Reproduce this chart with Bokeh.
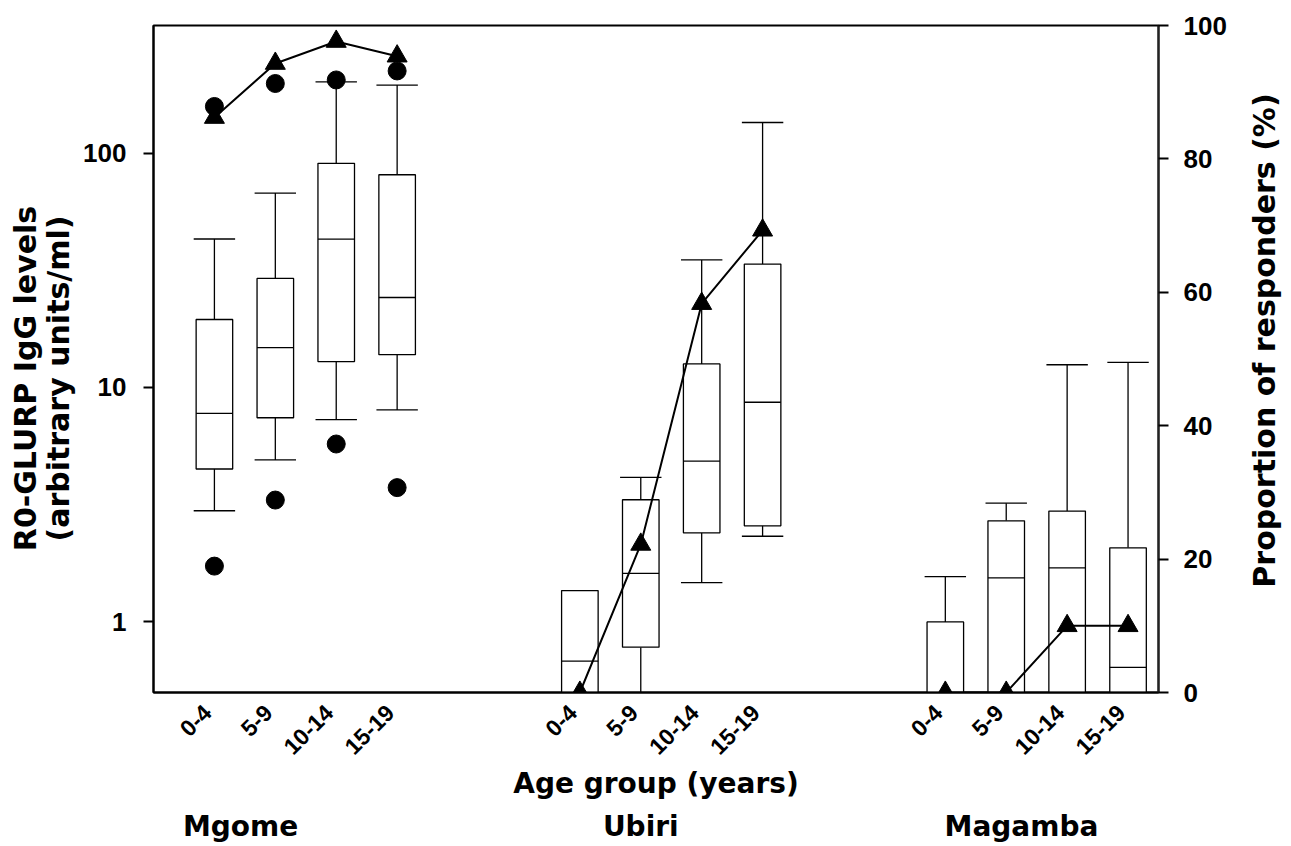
import math
from bokeh.plotting import figure
from bokeh.layouts import row
from bokeh.models import Range1d, LinearAxis, LinearScale, FixedTicker, LogTickFormatter, Label
from bokeh.embed import file_html
from bokeh.resources import INLINE

nan = float("nan")

# ---------------- data ----------------
groups = ["Mgome", "Ubiri", "Magamba"]
age_groups = ["0-4", "5-9", "10-14", "15-19"]
y_ticks = [1, 10, 100]
pct_ticks = [0, 20, 40, 60, 80, 100]

mgome_low = [2.98, 4.91, 7.29, 8.02]
mgome_q1 = [4.49, 7.43, 12.9, 13.8]
mgome_med = [7.76, 14.8, 42.9, 24.2]
mgome_q3 = [19.5, 29.2, 90.4, 80.8]
mgome_high = [43.0, 67.5, 201.0, 195.0]
mgome_dot_low = [1.73, 3.31, 5.74, 3.74]
mgome_dot_high = [158.0, 198.0, 205.0, 224.0]
mgome_resp = [86.2, 94.3, 97.6, 95.4]

ubiri_low = [nan, 0.35, 1.47, 2.32]
ubiri_q1 = [0.40, 0.78, 2.40, 2.57]
ubiri_med = [0.68, 1.61, 4.85, 8.65]
ubiri_q3 = [1.36, 3.32, 12.6, 33.6]
ubiri_high = [nan, 4.14, 35.0, 135.0]
ubiri_resp = [0.0, 22.2, 58.3, 69.3]

magamba_low = [0.30, 0.30, 0.30, 0.30]
magamba_q1 = [0.40, 0.40, 0.40, 0.40]
magamba_med = [0.45, 1.54, 1.70, 0.64]
magamba_q3 = [1.00, 2.70, 2.97, 2.07]
magamba_high = [1.56, 3.21, 12.5, 12.8]
magamba_resp = [0.0, 0.0, 10.0, 10.0]

left_title = ["R0-GLURP IgG levels", "(arbitrary units/ml)"]
right_title = "Proportion of responders (%)"
x_title = "Age group (years)"

# ---------------- layout constants ----------------
H = 845
BORDER_TOP, BORDER_BOTTOM = 25, 153
FRAME_BOTTOM = H - BORDER_BOTTOM          # frames of the row are aligned
LEFT_W, MAIN_W, RIGHT_W = 80, 1153, 57
group_first_pos = [1, 7, 13]
group_label_pos = [1.43, 8.0, 14.25]
LABEL_SHIFT = 0.12
BOX_W = 0.6
CAP_W = 0.68
TICK_FONT = "Liberation Sans"
TITLE_FONT = "DejaVu Sans"
TITLE_SIZE = "28px"
VTITLE_SIZE = "30px"

series = [
    (mgome_low, mgome_q1, mgome_med, mgome_q3, mgome_high, mgome_resp),
    (ubiri_low, ubiri_q1, ubiri_med, ubiri_q3, ubiri_high, ubiri_resp),
    (magamba_low, magamba_q1, magamba_med, magamba_q3, magamba_high, magamba_resp),
]

xs, lows, q1s, meds, q3s, highs = [], [], [], [], [], []
resp_x, resp_y = [], []
tick_pos, tick_lab = [], []
for g, (lo, q1, md, q3, hi, rp) in enumerate(series):
    gx = [group_first_pos[g] + i for i in range(len(age_groups))]
    xs += gx
    lows += lo
    q1s += q1
    meds += md
    q3s += q3
    highs += hi
    resp_x.append(gx)
    resp_y.append(rp)
    tick_pos += [x - LABEL_SHIFT for x in gx]
    tick_lab += age_groups

p = figure(width=MAIN_W, height=H,
           x_range=Range1d(0, 16.5), y_range=Range1d(0.5, 350),
           y_axis_type="log", output_backend="svg", toolbar_location=None,
           min_border_left=72, min_border_right=75,
           min_border_top=BORDER_TOP, min_border_bottom=BORDER_BOTTOM)
p.extra_y_ranges = {"pct": Range1d(0, 100)}
p.extra_y_scales = {"pct": LinearScale()}
p.xgrid.visible = False
p.ygrid.visible = False
p.outline_line_color = "black"
p.outline_line_width = 2
p.background_fill_color = "white"
p.border_fill_color = "white"

LW = 1.3
# whiskers
p.segment(x0=xs, y0=q3s, x1=xs, y1=highs, line_color="black", line_width=LW)
p.segment(x0=xs, y0=q1s, x1=xs, y1=lows, line_color="black", line_width=LW)
p.segment(x0=[x - CAP_W / 2 for x in xs], y0=highs,
          x1=[x + CAP_W / 2 for x in xs], y1=highs, line_color="black", line_width=LW)
p.segment(x0=[x - CAP_W / 2 for x in xs], y0=lows,
          x1=[x + CAP_W / 2 for x in xs], y1=lows, line_color="black", line_width=LW)
# boxes
p.vbar(x=xs, width=BOX_W, bottom=q1s, top=q3s, fill_color="white",
       line_color="black", line_width=LW)
p.segment(x0=[x - BOX_W / 2 for x in xs], y0=meds,
          x1=[x + BOX_W / 2 for x in xs], y1=meds, line_color="black", line_width=LW)

# proportion of responders
for gx, gy in zip(resp_x, resp_y):
    p.line(x=gx, y=gy, y_range_name="pct", line_color="black", line_width=2)
    p.scatter(x=gx, y=gy, y_range_name="pct", marker="triangle", size=20, color="black")

# outlier dots (Mgome)
mg_x = resp_x[0]
p.scatter(x=mg_x, y=mgome_dot_low, marker="circle", size=18, color="black")
p.scatter(x=mg_x, y=mgome_dot_high, marker="circle", size=18, color="black")

# left axis
ya = p.yaxis[0]
ya.ticker = FixedTicker(ticks=y_ticks)
ya.formatter = LogTickFormatter(min_exponent=4)
ya.axis_line_width = 2
ya.axis_line_color = "black"
ya.major_tick_out = 10
ya.major_tick_in = 0
ya.major_tick_line_width = 2
ya.minor_tick_line_color = None
ya.major_label_standoff = 17
ya.major_label_text_font = TICK_FONT
ya.major_label_text_font_style = "bold"
ya.major_label_text_font_size = "26px"
ya.major_label_text_color = "black"

# right axis
ra = LinearAxis(y_range_name="pct", ticker=FixedTicker(ticks=pct_ticks))
ra.axis_line_width = 2
ra.axis_line_color = "#222222"
ra.major_tick_out = 10
ra.major_tick_in = 0
ra.major_tick_line_width = 2
ra.minor_tick_line_color = None
ra.major_label_standoff = 15
ra.major_label_text_font = TICK_FONT
ra.major_label_text_font_style = "bold"
ra.major_label_text_font_size = "26px"
ra.major_label_text_color = "black"
p.add_layout(ra, "right")

# bottom axis with rotated age-group labels
xa = p.xaxis[0]
xa.ticker = FixedTicker(ticks=tick_pos)
xa.major_label_overrides = {pos: lab for pos, lab in zip(tick_pos, tick_lab)}
xa.major_label_orientation = math.pi / 4
xa.major_tick_line_color = None
xa.minor_tick_line_color = None
xa.axis_line_color = "black"
xa.axis_line_width = 2
xa.major_label_standoff = 10
xa.major_label_text_font = TICK_FONT
xa.major_label_text_font_style = "bold"
xa.major_label_text_font_size = "23px"
xa.major_label_text_color = "black"
xa.axis_label = x_title
xa.axis_label_standoff = 2
xa.axis_label_text_font = TITLE_FONT
xa.axis_label_text_font_style = "bold"
xa.axis_label_text_font_size = TITLE_SIZE
xa.axis_label_text_color = "black"

# second bottom axis carrying the village names
ga = LinearAxis(ticker=FixedTicker(ticks=group_label_pos))
ga.major_label_overrides = {pos: name for pos, name in zip(group_label_pos, groups)}
ga.axis_line_color = None
ga.major_tick_line_color = None
ga.minor_tick_line_color = None
ga.major_label_standoff = 0
ga.major_label_text_font = TITLE_FONT
ga.major_label_text_font_style = "bold"
ga.major_label_text_font_size = TITLE_SIZE
ga.major_label_text_color = "black"
p.add_layout(ga, "below")


def side_panel(width):
    f = figure(width=width, height=H, output_backend="svg", toolbar_location=None,
               x_axis_location=None, y_axis_location=None,
               x_range=Range1d(0, 1), y_range=Range1d(0, 1),
               min_border_left=0, min_border_right=0,
               min_border_top=BORDER_TOP, min_border_bottom=BORDER_BOTTOM)
    f.outline_line_color = None
    f.xgrid.visible = False
    f.ygrid.visible = False
    f.background_fill_color = "white"
    f.border_fill_color = "white"
    return f


def vlabel(text, x, y_page):
    # y is measured upward from the (aligned) bottom edge of the frame
    return Label(text=text, x=x, y=FRAME_BOTTOM - y_page, x_units="screen", y_units="screen",
                 angle=math.pi / 2, text_align="center", text_baseline="middle",
                 text_font=TITLE_FONT, text_font_style="bold",
                 text_font_size=VTITLE_SIZE, text_color="black")


p_left = side_panel(LEFT_W)
p_left.add_layout(vlabel(left_title[0], 25, 378))
p_left.add_layout(vlabel(left_title[1], 58, 378))

p_right = side_panel(RIGHT_W)
p_right.add_layout(vlabel(right_title, 31, 340))

layout = row(p_left, p, p_right, spacing=0)
open("out.html", "w").write(file_html(layout, INLINE))
